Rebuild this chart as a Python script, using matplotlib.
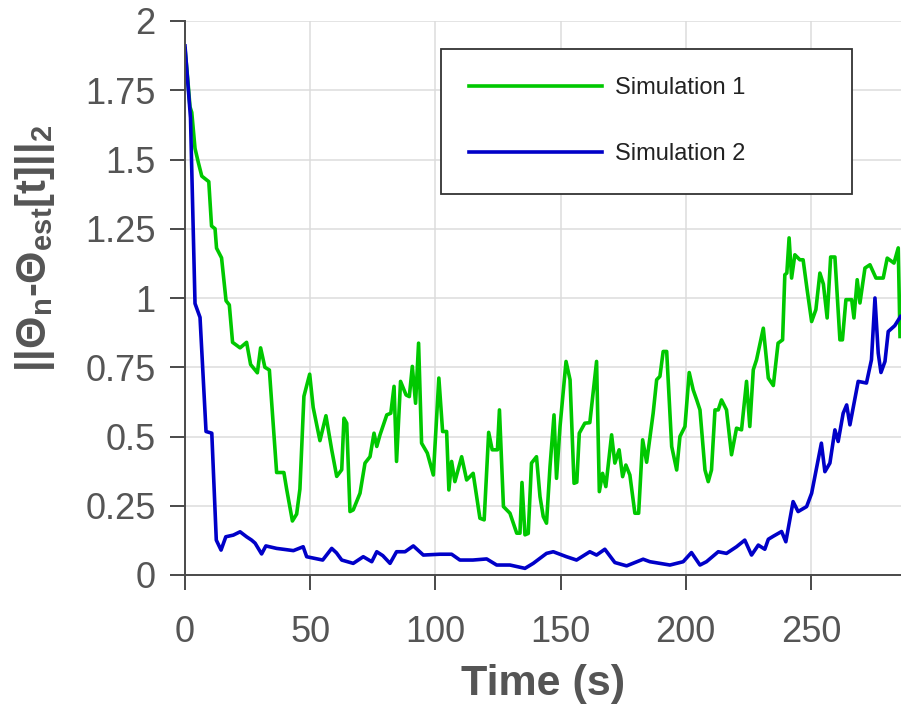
import matplotlib
matplotlib.use('Agg')
import matplotlib.pyplot as plt
from matplotlib.ticker import FuncFormatter

plt.rcParams['font.family'] = ['Liberation Sans', 'DejaVu Sans']
plt.rcParams['mathtext.fontset'] = 'custom'
plt.rcParams['mathtext.rm'] = 'Liberation Sans'
plt.rcParams['mathtext.bf'] = 'Liberation Sans:bold'
plt.rcParams['mathtext.it'] = 'Liberation Sans:italic'

# Simulation 1 (green)
t_sim1 = [0, 1.0, 2.0, 2.7, 4.0, 5.3, 6.7, 9.5, 10.6, 12.0, 12.6, 14.6, 16.4, 17.7, 19.0,
          22.0, 24.6, 26.2, 28.9, 30.2, 31.9, 33.7, 36.6, 39.5, 40.6, 42.9, 44.6, 45.9,
          47.5, 49.8, 51.2, 53.9, 56.3, 58.6, 60.6, 62.6, 63.5, 64.6, 65.9, 67.2, 69.9,
          71.9, 73.9, 75.5, 76.6, 77.9, 80.6, 82.2, 83.5, 84.5, 86.1, 88.3, 89.6, 90.8,
          92.1, 93.3, 94.5, 96.8, 99.2, 101.4, 102.9, 104.5, 105.4, 106.5, 107.8, 110.5,
          112.5, 115.1, 117.8, 119.5, 121.3, 122.7, 124.8, 125.6, 127.2, 129.8, 132.5,
          133.8, 134.6, 135.8, 137.1, 138.4, 140.4, 141.8, 143.1, 144.4, 145.8, 147.4,
          148.4, 149.8, 152.2, 153.8, 155.4, 156.5, 157.5, 159.7, 161.7, 164.4, 165.5,
          166.8, 168.1, 170.4, 171.7, 173.4, 174.8, 176.1, 177.7, 179.7, 181.2, 182.8,
          184.4, 187.0, 188.4, 189.7, 191.0, 192.4, 194.4, 196.4, 197.7, 199.7, 201.4,
          203.0, 204.4, 205.7, 207.7, 209.0, 210.3, 211.7, 213.0, 214.3, 216.3, 218.3,
          220.3, 222.3, 224.3, 225.6, 227.0, 228.3, 231.0, 233.0, 235.0, 236.9, 238.7,
          239.6, 240.4, 241.3, 242.3, 243.6, 245.6, 246.9, 248.5, 250.3, 252.0, 253.6,
          255.0, 256.5, 257.9, 259.6, 261.6, 262.6, 264.0, 266.3, 267.2, 268.5, 269.6,
          271.6, 273.6, 276.0, 278.9, 280.5, 283.2, 284.9, 285.6]
err_sim1 = [1.90, 1.80, 1.69, 1.67, 1.54, 1.49, 1.44, 1.42, 1.26, 1.25, 1.18, 1.145, 0.99,
            0.975, 0.84, 0.82, 0.84, 0.76, 0.73, 0.82, 0.75, 0.74, 0.37, 0.37, 0.31, 0.195,
            0.22, 0.31, 0.645, 0.725, 0.605, 0.485, 0.575, 0.452, 0.356, 0.38, 0.566, 0.548,
            0.229, 0.235, 0.295, 0.404, 0.427, 0.512, 0.464, 0.506, 0.578, 0.584, 0.681,
            0.41, 0.699, 0.65, 0.644, 0.753, 0.62, 0.837, 0.476, 0.44, 0.361, 0.711, 0.518,
            0.518, 0.307, 0.41, 0.337, 0.427, 0.343, 0.367, 0.205, 0.199, 0.515, 0.452,
            0.452, 0.596, 0.247, 0.223, 0.151, 0.151, 0.334, 0.145, 0.15, 0.404, 0.427,
            0.283, 0.211, 0.187, 0.391, 0.578, 0.349, 0.536, 0.771, 0.705, 0.331, 0.335,
            0.512, 0.548, 0.55, 0.771, 0.301, 0.367, 0.319, 0.506, 0.404, 0.452, 0.355,
            0.397, 0.361, 0.223, 0.223, 0.488, 0.407, 0.584, 0.705, 0.717, 0.807, 0.807,
            0.464, 0.379, 0.5, 0.536, 0.731, 0.668, 0.632, 0.596, 0.379, 0.337, 0.379,
            0.596, 0.596, 0.632, 0.596, 0.434, 0.53, 0.524, 0.699, 0.536, 0.741, 0.777,
            0.891, 0.711, 0.684, 0.837, 0.849, 1.084, 1.09, 1.217, 1.072, 1.156, 1.138,
            1.138, 1.03, 0.915, 0.958, 1.09, 1.05, 0.928, 1.148, 1.148, 0.849, 0.849,
            0.994, 0.994, 0.928, 1.066, 0.982, 1.108, 1.12, 1.072, 1.072, 1.144, 1.126,
            1.181, 0.861]

# Simulation 2 (blue)
t_sim2 = [0, 2.2, 4.0, 6.0, 8.4, 10.7, 12.5, 14.4, 16.3, 19.3, 22.0, 24.6, 26.6, 28.0,
          30.6, 32.3, 36.6, 40.0, 43.3, 47.2, 48.6, 55.0, 58.6, 60.5, 62.6, 67.2, 71.2,
          74.6, 76.6, 79.0, 81.9, 84.5, 87.9, 91.2, 95.2, 101.8, 106.5, 109.8, 115.0,
          120.5, 124.5, 129.8, 135.8, 139.1, 144.4, 147.1, 152.4, 156.4, 161.7, 164.4,
          167.7, 171.7, 176.4, 183.0, 185.7, 189.7, 193.7, 199.0, 202.3, 205.7, 208.3,
          213.0, 216.3, 220.3, 223.6, 226.3, 229.0, 231.6, 233.0, 235.0, 238.3, 240.0,
          242.9, 244.9, 248.3, 250.3, 254.2, 255.6, 257.6, 259.6, 260.9, 262.9, 264.3,
          265.6, 268.9, 272.2, 274.2, 275.6, 276.9, 278.0, 279.6, 280.9, 283.5, 285.8]
err_sim2 = [1.91, 1.65, 0.98, 0.93, 0.518, 0.512, 0.126, 0.09, 0.138, 0.144, 0.156, 0.138,
            0.126, 0.115, 0.076, 0.105, 0.096, 0.092, 0.088, 0.102, 0.066, 0.054, 0.096,
            0.08, 0.054, 0.042, 0.066, 0.048, 0.084, 0.07, 0.042, 0.084, 0.084, 0.105,
            0.072, 0.075, 0.075, 0.054, 0.054, 0.058, 0.036, 0.036, 0.024, 0.042, 0.078,
            0.084, 0.066, 0.054, 0.084, 0.072, 0.093, 0.045, 0.033, 0.057, 0.048, 0.042,
            0.036, 0.048, 0.081, 0.036, 0.048, 0.084, 0.078, 0.102, 0.126, 0.072, 0.108,
            0.093, 0.129, 0.14, 0.157, 0.12, 0.265, 0.229, 0.247, 0.295, 0.476, 0.373,
            0.404, 0.524, 0.482, 0.584, 0.614, 0.542, 0.699, 0.693, 0.777, 1.0, 0.801,
            0.731, 0.771, 0.879, 0.9, 0.933]

x_ticks = [0, 50, 100, 150, 200, 250]
y_ticks = [0, 0.25, 0.5, 0.75, 1, 1.25, 1.5, 1.75, 2]

fig = plt.figure(figsize=(9.01, 7.14), dpi=100)
ax = fig.add_axes([185 / 901, 1 - 575 / 714, 716 / 901, 554 / 714])

ax.plot(t_sim1, err_sim1, color='#00c800', lw=2.6, label='Simulation 1')
ax.plot(t_sim2, err_sim2, color='#0000c8', lw=2.6, label='Simulation 2')

ax.set_xlim(0, 286)
ax.set_ylim(0, 2)
ax.set_xticks(x_ticks)
ax.set_yticks(y_ticks)
ax.yaxis.set_major_formatter(FuncFormatter(lambda v, p: '%g' % v))
ax.grid(True, color='#dcdcdc', lw=1.1)
ax.set_axisbelow(True)
for s in ['top', 'right']:
    ax.spines[s].set_visible(False)
for s in ['left', 'bottom']:
    ax.spines[s].set_color('#4a4a4a')
    ax.spines[s].set_linewidth(1.4)
ax.tick_params(direction='out', length=11, width=1.4, color='#4a4a4a',
               labelsize=26, labelcolor='#555555')
ax.tick_params(axis='x', pad=18)
ax.tick_params(axis='y', pad=10)

ax.set_xlabel('Time (s)', fontsize=31, fontweight='bold', color='#555555', labelpad=10)
ax.set_ylabel(r'$\mathbf{||Θ_n}$-$\mathbf{Θ_{est}[t]||_2}$', fontsize=30,
              fontweight='bold', color='#555555')
ax.yaxis.label.set_va('center')
ax.yaxis.set_label_coords(-0.21, 0.59)

leg = ax.legend(loc='upper left', bbox_to_anchor=(0.3575, 0.9495, 0.574, 0),
                mode='expand', fontsize=17, frameon=True, fancybox=False,
                framealpha=1, edgecolor='#333333', borderpad=1.2, labelspacing=1.86,
                handlelength=5.6, handletextpad=0.55, borderaxespad=0)
leg.get_frame().set_linewidth(1.3)
for txt in leg.get_texts():
    txt.set_color('#222222')

plt.savefig('out.png', dpi=100)
plt.close()
